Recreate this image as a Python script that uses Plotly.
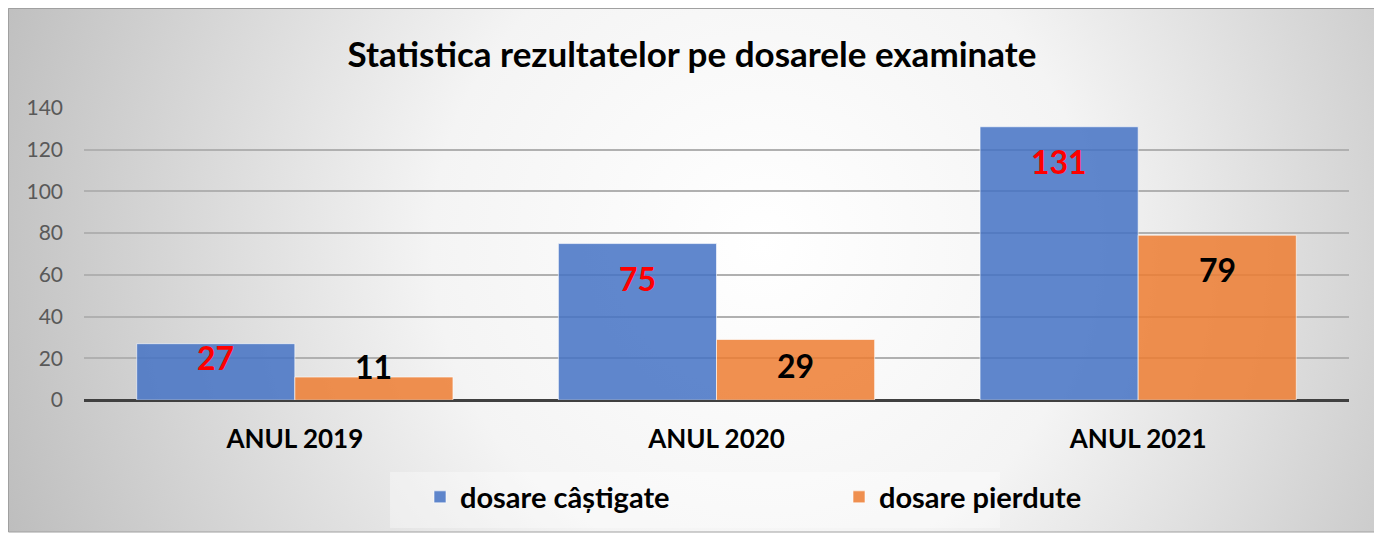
import base64
import plotly.graph_objects as go

# date
ani = ["ANUL 2019", "ANUL 2020", "ANUL 2021"]
castigate = [27, 75, 131]
pierdute = [11, 29, 79]
y_ticks = [0, 20, 40, 60, 80, 100, 120, 140]

# deplasarea etichetelor fata de varful barei (px)
shift_castigate = [-14, -35, -35]
shift_pierdute = [11, -26, -34]

# pagina are margine de 8px in browser -> figura 1374x527
W, H = 1374, 527
ml, mr, mt, mb = 76, 33, 100, 135
pw, ph = W - ml - mr, H - mt - mb

# fundal cu gradient radial (ca in Excel)
bw, bh = 1370, 524
svg = (
    f'<svg xmlns="http://www.w3.org/2000/svg" width="{bw}" height="{bh}" viewBox="0 0 {bw} {bh}" preserveAspectRatio="none">'
    '<defs><radialGradient id="g" cx="0.55" cy="0.45" r="0.6" gradientTransform="translate(0.55 0.45) scale(1 2.6) translate(-0.55 -0.45)">'
    '<stop offset="0" stop-color="#ffffff"/><stop offset="0.4" stop-color="#f4f4f4"/>'
    '<stop offset="1" stop-color="#bcbcbc"/></radialGradient></defs>'
    f'<rect width="{bw}" height="{bh}" fill="url(#g)"/>'
    # zona legendei, putin mai deschisa
    '<rect x="382" y="464" width="610" height="56" fill="#ffffff" fill-opacity="0.35"/></svg>'
)
src = "data:image/svg+xml;base64," + base64.b64encode(svg.encode()).decode()

fig = go.Figure()
fig.add_trace(go.Bar(x=ani, y=castigate, name="dosare câștigate",
                     marker=dict(color="rgba(68,114,196,0.85)", line=dict(color="rgba(255,255,255,0.6)", width=1))))
fig.add_trace(go.Bar(x=ani, y=pierdute, name="dosare pierdute",
                     marker=dict(color="rgba(237,125,49,0.85)", line=dict(color="rgba(255,255,255,0.6)", width=1))))

# etichete de date
for a, v, s in zip(ani, castigate, shift_castigate):
    fig.add_annotation(x=a, y=v, text=str(v), showarrow=False, xshift=-79, yshift=s,
                       yanchor="middle", font=dict(family="Lato", size=32, color="#ff0000", weight="bold"))
for a, v, s in zip(ani, pierdute, shift_pierdute):
    fig.add_annotation(x=a, y=v, text=str(v), showarrow=False, xshift=79, yshift=s,
                       yanchor="middle", font=dict(family="Lato", size=32, color="#000000", weight="bold"))

# chenar
fig.add_shape(type="rect", xref="paper", yref="paper",
              x0=(0.5 - ml) / pw, x1=(bw - ml) / pw, y0=-(bh - mt - ph) / ph, y1=1 + (mt - 0.5) / ph,
              line=dict(color="#a0a0a0", width=1), layer="above")

fig.add_layout_image(source=src, xref="paper", yref="paper",
                     x=-ml / pw, y=1 + mt / ph, sizex=bw / pw, sizey=bh / ph,
                     xanchor="left", yanchor="top", sizing="stretch", layer="below")

fig.update_layout(
    width=W, height=H,
    margin=dict(l=ml, r=mr, t=mt, b=mb),
    paper_bgcolor="white", plot_bgcolor="rgba(0,0,0,0)",
    font=dict(family="Lato"),
    title=dict(text="<b>Statistica rezultatelor pe dosarele examinate</b>", x=684 / W, xref="container",
               y=1 - 47 / H, yanchor="middle", xanchor="center",
               font=dict(size=35, color="#000000", family="Lato")),
    barmode="group", bargap=0.25, bargroupgap=0,
    showlegend=True,
    legend=dict(orientation="h", x=(412 - ml) / pw, xanchor="left", y=-(489 - 392) / ph, yanchor="middle",
                font=dict(size=29, color="#000000", family="Lato", weight="bold"),
                bgcolor="rgba(0,0,0,0)", entrywidth=374, entrywidthmode="pixels",
                traceorder="normal"),
)
fig.update_yaxes(range=[0, 140], tickvals=y_ticks, showgrid=True, gridcolor="#b0b0b0", gridwidth=1.5,
                 zeroline=True, zerolinecolor="#404040", zerolinewidth=3, showline=False,
                 tickfont=dict(size=21, color="#595959", family="Lato"), ticklabelstandoff=20)
fig.update_xaxes(showline=False, showgrid=False,
                 tickfont=dict(size=26, color="#000000", family="Lato", weight="bold"), ticklabelstandoff=21)

fig.write_html("out.html")
